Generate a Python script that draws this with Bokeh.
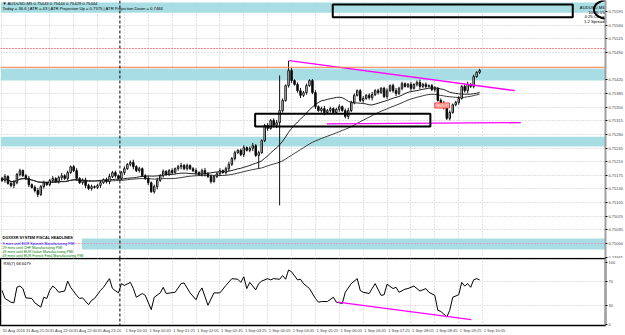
import numpy as np
import pandas as pd
from bokeh.plotting import figure
from bokeh.layouts import column
from bokeh.models import (ColumnDataSource, Range1d, FixedTicker, Span, BoxAnnotation,
                          Label, PrintfTickFormatter)
from bokeh.embed import file_html
from bokeh.resources import INLINE

# ---------------- data (AUDUSD M5, 31 Aug 20:40 -> 1 Sep 10:00) ----------------
opens = [0.75167, 0.75162, 0.75172, 0.75154, 0.75149, 0.75156, 0.75177, 0.75187, 0.75174, 0.75167,
         0.75151, 0.75144, 0.75136, 0.75126, 0.75146, 0.75156, 0.75151, 0.75162, 0.75167, 0.75159,
         0.75169, 0.75174, 0.75167, 0.75182, 0.75197, 0.75187, 0.75167, 0.75156, 0.75162, 0.75149,
         0.75141, 0.75146, 0.75144, 0.75149, 0.75156, 0.75164, 0.75159, 0.75172, 0.75182, 0.75174,
         0.75167, 0.75182, 0.75192, 0.75203, 0.75208, 0.75197, 0.75187, 0.75192, 0.75174, 0.75167,
         0.75156, 0.75133, 0.75146, 0.75162, 0.75174, 0.75185, 0.75177, 0.75187, 0.75182, 0.75192,
         0.75197, 0.75200, 0.75192, 0.75200, 0.75192, 0.75187, 0.75182, 0.75177, 0.75187, 0.75179,
         0.75172, 0.75159, 0.75172, 0.75179, 0.75187, 0.75182, 0.75192, 0.75203, 0.75218, 0.75233,
         0.75239, 0.75228, 0.75246, 0.75239, 0.75244, 0.75251, 0.75226, 0.75233, 0.75264, 0.75303,
         0.75295, 0.75316, 0.75303, 0.75310, 0.75341, 0.75367, 0.75405, 0.75444, 0.75418, 0.75408,
         0.75392, 0.75380, 0.75387, 0.75405, 0.75418, 0.75387, 0.75351, 0.75341, 0.75346, 0.75336,
         0.75341, 0.75346, 0.75336, 0.75344, 0.75351, 0.75341, 0.75326, 0.75341, 0.75362, 0.75380,
         0.75392, 0.75367, 0.75372, 0.75380, 0.75374, 0.75382, 0.75392, 0.75387, 0.75398, 0.75377,
         0.75392, 0.75405, 0.75392, 0.75385, 0.75398, 0.75410, 0.75403, 0.75408, 0.75398, 0.75408,
         0.75413, 0.75403, 0.75408, 0.75403, 0.75405, 0.75395, 0.75398, 0.75367, 0.75359, 0.75351,
         0.75321, 0.75336, 0.75356, 0.75362, 0.75372, 0.75403, 0.75392, 0.75408, 0.75403, 0.75428,
         0.75439]
highs = [0.75171, 0.75178, 0.75175, 0.75159, 0.75163, 0.75181, 0.75192, 0.75190, 0.75178, 0.75173,
         0.75154, 0.75149, 0.75143, 0.75150, 0.75161, 0.75159, 0.75166, 0.75173, 0.75170, 0.75174,
         0.75181, 0.75178, 0.75187, 0.75200, 0.75201, 0.75193, 0.75170, 0.75167, 0.75169, 0.75153,
         0.75151, 0.75149, 0.75153, 0.75162, 0.75167, 0.75169, 0.75179, 0.75186, 0.75187, 0.75177,
         0.75186, 0.75198, 0.75206, 0.75213, 0.75215, 0.75201, 0.75197, 0.75195, 0.75178, 0.75173,
         0.75159, 0.75151, 0.75169, 0.75178, 0.75190, 0.75188, 0.75191, 0.75193, 0.75195, 0.75202,
         0.75207, 0.75204, 0.75205, 0.75203, 0.75196, 0.75193, 0.75185, 0.75192, 0.75194, 0.75183,
         0.75177, 0.75175, 0.75183, 0.75193, 0.75190, 0.75197, 0.75210, 0.75222, 0.75238, 0.75242,
         0.75243, 0.75252, 0.75249, 0.75249, 0.75258, 0.75255, 0.75238, 0.75267, 0.75307, 0.75309,
         0.75319, 0.75321, 0.75317, 0.75431, 0.75372, 0.75408, 0.75469, 0.75450, 0.75421, 0.75413,
         0.75399, 0.75391, 0.75410, 0.75421, 0.75422, 0.75393, 0.75354, 0.75351, 0.75353, 0.75345,
         0.75351, 0.75349, 0.75348, 0.75357, 0.75354, 0.75346, 0.75348, 0.75366, 0.75385, 0.75395,
         0.75396, 0.75378, 0.75383, 0.75385, 0.75389, 0.75396, 0.75397, 0.75401, 0.75402, 0.75398,
         0.75408, 0.75410, 0.75399, 0.75402, 0.75415, 0.75413, 0.75412, 0.75414, 0.75411, 0.75418,
         0.75420, 0.75412, 0.75413, 0.75408, 0.75409, 0.75404, 0.75401, 0.75372, 0.75366, 0.75355,
         0.75341, 0.75359, 0.75366, 0.75378, 0.75406, 0.75408, 0.75415, 0.75412, 0.75433, 0.75442,
         0.75448]
lows = [0.75158, 0.75156, 0.75151, 0.75144, 0.75142, 0.75152, 0.75172, 0.75171, 0.75163, 0.75145,
        0.75141, 0.75131, 0.75119, 0.75122, 0.75141, 0.75148, 0.75147, 0.75156, 0.75156, 0.75154,
        0.75162, 0.75163, 0.75162, 0.75179, 0.75183, 0.75161, 0.75153, 0.75151, 0.75142, 0.75137,
        0.75136, 0.75141, 0.75140, 0.75143, 0.75153, 0.75154, 0.75152, 0.75168, 0.75169, 0.75164,
        0.75163, 0.75176, 0.75189, 0.75198, 0.75190, 0.75183, 0.75182, 0.75171, 0.75163, 0.75150,
        0.75130, 0.75128, 0.75139, 0.75158, 0.75169, 0.75174, 0.75173, 0.75176, 0.75179, 0.75187,
        0.75190, 0.75188, 0.75187, 0.75189, 0.75183, 0.75176, 0.75174, 0.75172, 0.75172, 0.75168,
        0.75154, 0.75156, 0.75168, 0.75173, 0.75179, 0.75177, 0.75185, 0.75199, 0.75213, 0.75230,
        0.75224, 0.75222, 0.75236, 0.75234, 0.75237, 0.75222, 0.75192, 0.75230, 0.75260, 0.75289,
        0.75292, 0.75298, 0.75296, 0.75098, 0.75336, 0.75364, 0.75400, 0.75412, 0.75405, 0.75387,
        0.75373, 0.75376, 0.75382, 0.75402, 0.75383, 0.75345, 0.75338, 0.75336, 0.75329, 0.75332,
        0.75336, 0.75333, 0.75332, 0.75338, 0.75338, 0.75321, 0.75319, 0.75337, 0.75357, 0.75377,
        0.75363, 0.75361, 0.75369, 0.75369, 0.75367, 0.75378, 0.75382, 0.75384, 0.75373, 0.75371,
        0.75389, 0.75387, 0.75378, 0.75381, 0.75393, 0.75400, 0.75399, 0.75392, 0.75395, 0.75403,
        0.75396, 0.75399, 0.75398, 0.75400, 0.75391, 0.75389, 0.75364, 0.75354, 0.75344, 0.75317,
        0.75316, 0.75333, 0.75352, 0.75356, 0.75369, 0.75387, 0.75385, 0.75399, 0.75398, 0.75425,
        0.75435]
closes = [0.75162, 0.75172, 0.75154, 0.75149, 0.75156, 0.75177, 0.75187, 0.75174, 0.75167, 0.75151,
          0.75144, 0.75136, 0.75126, 0.75146, 0.75156, 0.75151, 0.75162, 0.75167, 0.75159, 0.75169,
          0.75174, 0.75167, 0.75182, 0.75197, 0.75187, 0.75167, 0.75156, 0.75162, 0.75149, 0.75141,
          0.75146, 0.75144, 0.75149, 0.75156, 0.75164, 0.75159, 0.75172, 0.75182, 0.75174, 0.75167,
          0.75182, 0.75192, 0.75203, 0.75208, 0.75197, 0.75187, 0.75192, 0.75174, 0.75167, 0.75156,
          0.75133, 0.75146, 0.75162, 0.75174, 0.75185, 0.75177, 0.75187, 0.75182, 0.75192, 0.75197,
          0.75200, 0.75192, 0.75200, 0.75192, 0.75187, 0.75182, 0.75177, 0.75187, 0.75179, 0.75172,
          0.75159, 0.75172, 0.75179, 0.75187, 0.75182, 0.75192, 0.75203, 0.75218, 0.75233, 0.75239,
          0.75228, 0.75246, 0.75239, 0.75244, 0.75251, 0.75226, 0.75233, 0.75264, 0.75303, 0.75295,
          0.75316, 0.75303, 0.75310, 0.75341, 0.75367, 0.75405, 0.75444, 0.75418, 0.75408, 0.75392,
          0.75380, 0.75387, 0.75405, 0.75418, 0.75387, 0.75351, 0.75341, 0.75346, 0.75336, 0.75341,
          0.75346, 0.75336, 0.75344, 0.75351, 0.75341, 0.75326, 0.75341, 0.75362, 0.75380, 0.75392,
          0.75367, 0.75372, 0.75380, 0.75374, 0.75382, 0.75392, 0.75387, 0.75398, 0.75377, 0.75392,
          0.75405, 0.75392, 0.75385, 0.75398, 0.75410, 0.75403, 0.75408, 0.75398, 0.75408, 0.75413,
          0.75403, 0.75408, 0.75403, 0.75405, 0.75395, 0.75398, 0.75367, 0.75359, 0.75351, 0.75321,
          0.75336, 0.75356, 0.75362, 0.75372, 0.75403, 0.75392, 0.75408, 0.75403, 0.75428, 0.75439,
          0.75444]
bars = list(range(len(closes)))

rsi_bars = [0, 1, 3, 4, 5, 6, 7, 8, 10, 11,
            13, 14, 15, 16, 17, 18, 19, 21, 22, 23,
            25, 26, 27, 29, 30, 31, 33, 34, 36, 37,
            39, 40, 41, 43, 44, 45, 47, 48, 50, 51,
            53, 54, 55, 58, 60, 61, 63, 65, 66, 67,
            69, 71, 73, 75, 77, 79, 80, 81, 82, 83,
            85, 86, 87, 89, 90, 91, 93, 94, 95, 96,
            97, 99, 100, 101, 103, 105, 106, 107, 109, 111,
            112, 114, 115, 117, 119, 120, 121, 123, 124, 125,
            127, 128, 129, 131, 132, 133, 135, 136, 138, 140,
            142, 143, 145, 146, 147, 148, 149, 150, 151, 153,
            154, 155, 156, 157, 158, 159, 160]
rsi_vals = [55, 42, 36, 35, 60, 62, 58, 43, 42, 35,
            28, 44, 42, 55, 62, 58, 52, 54, 70, 60,
            47, 42, 43, 32, 39, 42, 55, 60, 74, 58,
            51, 66, 63, 68, 58, 44, 50, 47, 24, 44,
            51, 60, 50, 52, 66, 67, 51, 40, 52, 59,
            31, 51, 51, 63, 74, 73, 68, 77, 58, 68,
            56, 66, 70, 74, 72, 74, 73, 79, 73, 88,
            85, 72, 73, 66, 58, 42, 36, 37, 37, 44,
            36, 34, 52, 66, 74, 55, 52, 50, 58, 66,
            47, 48, 65, 58, 60, 52, 57, 58, 62, 54,
            58, 52, 47, 23, 21, 17, 12, 23, 44, 48,
            68, 62, 66, 60, 72, 74, 72]

price_ticks = [0.75595, 0.75560, 0.75525, 0.75490, 0.75420, 0.75385, 0.75350, 0.75315,
               0.75280, 0.75245, 0.75210, 0.75175, 0.75140, 0.75105, 0.75070, 0.75035,
               0.75000, 0.74965]
rsi_ticks = [0, 30, 70, 100]
time_tick_bars = [0, 8, 16, 24, 32, 41, 49, 57, 65, 73, 81, 89, 97, 105, 113, 121, 129,
                  137, 145, 153, 161]
time_tick_labels = ["31 Aug 2016", "31 Aug 21:20", "31 Aug 22:00", "31 Aug 22:40",
                    "31 Aug 23:20", "1 Sep 00:05", "1 Sep 00:45", "1 Sep 01:25",
                    "1 Sep 02:05", "1 Sep 02:45", "1 Sep 03:25", "1 Sep 04:05",
                    "1 Sep 04:45", "1 Sep 05:25", "1 Sep 06:05", "1 Sep 06:45",
                    "1 Sep 07:25", "1 Sep 08:05", "1 Sep 08:45", "1 Sep 09:25",
                    "1 Sep 10:05"]
day_separator_bar = 39.5

# zones and levels drawn on the chart
zone_bottoms = [0.75592, 0.75418, 0.75249, 0.74985]
zone_tops = [0.75618, 0.75449, 0.75274, 0.75013]
zone_lefts = [None, None, None, 26.8]
level_red = 0.75500
level_ask = 0.75452
level_bid = 0.75444
level_round = 0.75000
level_note = 0.75354

# trend lines and boxes (bar, price)
tri_x = [96.2, 171.8]
tri_y = [0.75469, 0.75392]
base_x = [108.8, 173.8]
base_y = [0.75307, 0.75310]
rsi_div_x = [112.5, 157.2]
rsi_div_y = [36, 8]
box1 = dict(left=110.8, right=191.2, bottom=0.75580, top=0.75613)
box2 = dict(left=84.8, right=143.5, bottom=0.75300, top=0.75333)
ring = dict(x=202.8, y=0.75600, width=9.0, height=0.00048)

FONT = "Liberation Sans"
ZONE = "#a9dde4"
GRID = "#c4c4c4"

# ---------------- main price panel ----------------
xr = Range1d(-0.5, 202.17)
p = figure(width=625, height=258, x_range=xr, y_range=Range1d(0.749617, 0.756232),
           output_backend="svg", toolbar_location=None,
           y_axis_location="right", x_axis_location=None,
           min_border_left=0, min_border_right=17, min_border_top=0, min_border_bottom=0)
p.outline_line_color = None
p.background_fill_color = "white"
p.border_fill_color = "white"

ya = p.yaxis[0]
ya.ticker = FixedTicker(ticks=price_ticks)
ya.formatter = PrintfTickFormatter(format="%.5f")
ya.major_label_text_font_size = "4px"
ya.major_label_text_font = FONT
ya.major_label_standoff = 1
ya.major_tick_out = 2
ya.major_tick_in = 0
ya.minor_tick_out = 0
ya.minor_tick_in = 0
ya.axis_line_color = "#a0a0a0"
ya.axis_line_width = 2

p.ygrid.ticker = FixedTicker(ticks=price_ticks)
p.xgrid.ticker = FixedTicker(ticks=time_tick_bars)
for g in (p.xgrid, p.ygrid):
    g.grid_line_color = GRID
    g.grid_line_dash = "1 2"
    g.grid_line_width = 1

for b, t, l in zip(zone_bottoms, zone_tops, zone_lefts):
    kw = dict(bottom=b, top=t, fill_color=ZONE, fill_alpha=1, line_color=None, level="underlay")
    if l is not None:
        kw["left"] = l
    p.add_layout(BoxAnnotation(**kw))

p.add_layout(Span(location=level_red, dimension="width", line_color="red",
                  line_dash="1 2", line_width=1))
p.add_layout(Span(location=level_round, dimension="width", line_color="#ff6fa8",
                  line_dash="1 2", line_width=1))
p.add_layout(Span(location=level_ask, dimension="width", line_color="#ff7a40", line_width=1))
p.add_layout(Span(location=day_separator_bar, dimension="height", line_color="black",
                  line_dash="3 2", line_width=1))

# moving averages
cs = pd.Series(closes)
ma_fast = cs.rolling(20, min_periods=1).mean()
ma_slow = cs.rolling(50, min_periods=1).mean()
p.line(bars, ma_slow, line_color="#3c3c3c", line_width=1)
p.line(bars, ma_fast, line_color="#202020", line_width=1)

# candles
body_top = [max(o, c) for o, c in zip(opens, closes)]
body_bot = [min(o, c) for o, c in zip(opens, closes)]
fills = ["white" if c >= o else "black" for o, c in zip(opens, closes)]
src = ColumnDataSource(dict(x=bars, h=highs, l=lows, top=body_top, bot=body_bot, fill=fills))
p.segment(x0="x", y0="l", x1="x", y1="h", source=src, line_color="#111111", line_width=1)
p.vbar(x="x", width=0.5, top="top", bottom="bot", fill_color="fill", line_color="#111111",
       line_width=1, source=src)

# drawn objects
p.line(tri_x, tri_y, line_color="#ff00ff", line_width=1.3)
p.line(base_x, base_y, line_color="#ff00ff", line_width=1.3)
for bx in (box1, box2):
    p.quad(left=bx["left"], right=bx["right"], bottom=bx["bottom"], top=bx["top"],
           fill_alpha=0, line_color="black", line_width=2)
p.ellipse(x=ring["x"], y=ring["y"], width=ring["width"], height=ring["height"],
          fill_alpha=0, line_color="black", line_width=2)

# small price note near the pullback low
p.add_layout(Label(x=145, y=level_note, text=f"{level_note:.5f}", text_font=FONT,
                   text_font_size="3.5px", text_color="#ff3030", text_baseline="middle",
                   background_fill_color="#ffd8d0", border_line_color="#ff3030",
                   border_line_width=1, padding=1))

# price tags
for lvl, bg in ((level_ask, "#ff5a1e"), (level_bid, "black")):
    p.add_layout(Label(x=609, x_units="screen", y=lvl, y_units="data", text=f"{lvl:.5f}",
                       text_font=FONT, text_font_size="4px", text_color="white",
                       text_baseline="middle", background_fill_color=bg,
                       padding=1))

def txt(fig, x, y, s, color="black", align="left", size="4.2px", bold=False):
    fig.add_layout(Label(x=x, y=y, x_units="screen", y_units="screen", text=s,
                         text_font=FONT, text_font_size=size, text_color=color,
                         text_align=align, text_baseline="middle",
                         text_font_style="bold" if bold else "normal"))

H = 258
txt(p, 2, H - 3, "\u25bc AUDUSD,M5  0.75443 0.75444 0.75429 0.75444")
txt(p, 2, H - 8, "Today = 36.6   |   ATR = 43   |   ATR Projection Up = 0.7575   |   ATR Projection Down = 0.7484")
txt(p, 604, H - 7, "AUDUSD,M5", align="right")
txt(p, 604, H - 12, "10:05:15", align="right")
txt(p, 604, H - 16, "4:25 Close", align="right")
txt(p, 604, H - 21, "1.2 Spread", align="right")

txt(p, 2, 21, "DGXXXR SYSTEM  FISCAL HEADLINES", size="3.8px", bold=True)
txt(p, 2, 15, "9 mins until EUR Spanish Manufacturing PMI", color="#0000ff", size="3.6px")
txt(p, 2, 11, "29 mins until CHF Manufacturing PMI", color="#008000", size="3.6px")
txt(p, 2, 7, "49 mins until EUR Italian Manufacturing PMI", color="#008000", size="3.6px")
txt(p, 2, 3, "49 mins until EUR French Final Manufacturing PMI", color="#008000", size="3.6px")

# ---------------- RSI panel ----------------
r = figure(width=625, height=77, x_range=xr, y_range=Range1d(-1.6, 106.5),
           output_backend="svg", toolbar_location=None,
           y_axis_location="right", x_axis_location="below",
           min_border_left=0, min_border_right=17, min_border_top=0, min_border_bottom=10)
r.outline_line_color = "black"
r.outline_line_width = 1.5
r.background_fill_color = "white"

ry = r.yaxis[0]
ry.ticker = FixedTicker(ticks=rsi_ticks)
ry.major_label_text_font_size = "4px"
ry.major_label_text_font = FONT
ry.major_label_standoff = 1
ry.major_tick_out = 2
ry.major_tick_in = 0
ry.minor_tick_out = 0
ry.axis_line_color = "#a0a0a0"
ry.axis_line_width = 2

LABEL_SHIFT = 4
rx = r.xaxis[0]
rx.ticker = FixedTicker(ticks=[b + LABEL_SHIFT for b in time_tick_bars])
rx.major_label_overrides = {b + LABEL_SHIFT: s for b, s in zip(time_tick_bars, time_tick_labels)}
rx.major_label_text_font_size = "4px"
rx.major_label_text_font = FONT
rx.major_label_standoff = 2
rx.major_tick_out = 0
rx.major_tick_in = 0
rx.minor_tick_out = 0
rx.axis_line_color = "black"

r.xgrid.ticker = FixedTicker(ticks=time_tick_bars)
r.ygrid.ticker = FixedTicker(ticks=[30, 70])
for g in (r.xgrid, r.ygrid):
    g.grid_line_color = GRID
    g.grid_line_dash = "1 2"

r.add_layout(Span(location=day_separator_bar, dimension="height", line_color="black",
                  line_dash="3 2", line_width=1))
r.line(rsi_bars, rsi_vals, line_color="black", line_width=1)
r.line(rsi_div_x, rsi_div_y, line_color="#ff00ff", line_width=1.3)
txt(r, 3, 62, "RSI(7) 68.6079", size="4px")

layout = column(p, r, spacing=0)
open("out.html", "w").write(file_html(layout, INLINE))
